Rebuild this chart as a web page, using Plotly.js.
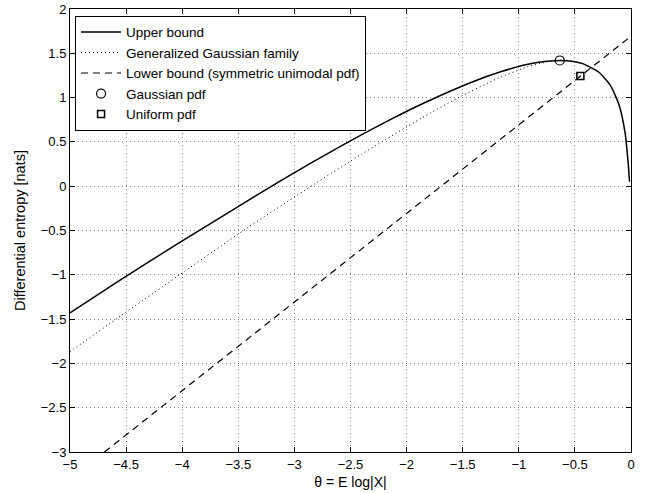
<!DOCTYPE html>
<html>
<head>
<meta charset="utf-8">
<script src="https://cdn.plot.ly/plotly-3.0.1.min.js"></script>
<style>html,body{margin:0;padding:0;background:#fff;}#chart{width:646px;height:493px;}</style>
</head>
<body>
<div id="chart"></div>
<script>
// Upper bound
const upperTheta = [-5.0, -4.571, -4.061, -3.154, -2.562, -2.146, -1.840, -1.421, -1.149, -0.961, -0.823, -0.635, -0.515, -0.432, -0.289, -0.185, -0.107, -0.052, -0.025, -0.013];
const upperH     = [-1.43, -1.074, -0.666, 0.038, 0.469, 0.751, 0.942, 1.174, 1.297, 1.364, 1.399, 1.419, 1.408, 1.383, 1.289, 1.140, 0.920, 0.596, 0.258, 0.05];
// Generalized Gaussian family
const ggTheta = [-5.0, -4.861, -4.553, -4.047, -3.426, -2.831, -2.401, -1.867, -1.548, -1.189, -0.924, -0.727, -0.635];
const ggH     = [-1.867, -1.743, -1.468, -1.021, -0.476, 0.016, 0.362, 0.769, 0.993, 1.216, 1.347, 1.409, 1.419];
// Lower bound (symmetric unimodal pdf)
const lowerTheta = [-4.693, 0.0];
const lowerH     = [-3.0, 1.693];
// Special points
const gaussTheta = [-0.635], gaussH = [1.419];
const unifTheta  = [-0.451], unifH  = [1.2425];
const xTicks = [-5, -4.5, -4, -3.5, -3, -2.5, -2, -1.5, -1, -0.5, 0];
const yTicks = [-3, -2.5, -2, -1.5, -1, -0.5, 0, 0.5, 1, 1.5, 2];

const FONT = 'Liberation Sans, Arial, Helvetica, sans-serif';
const traces = [
  {x: upperTheta, y: upperH, mode: 'lines', name: 'Upper bound',
   line: {color: '#000', width: 1.5, shape: 'spline', smoothing: 0.6}},
  {x: ggTheta, y: ggH, mode: 'lines', name: 'Generalized Gaussian family',
   line: {color: '#000', width: 1, dash: '1px,3px', shape: 'spline', smoothing: 0.6}},
  {x: lowerTheta, y: lowerH, mode: 'lines', name: 'Lower bound (symmetric unimodal pdf)',
   line: {color: '#000', width: 1.2, dash: '7px,5px'}},
  {x: gaussTheta, y: gaussH, mode: 'markers', name: 'Gaussian pdf',
   marker: {symbol: 'circle-open', size: 9, color: '#000', line: {width: 1.2}}},
  {x: unifTheta, y: unifH, mode: 'markers', name: 'Uniform pdf',
   marker: {symbol: 'square-open', size: 7, color: '#000', line: {width: 1.5}}}
];

const axisCommon = {
  showline: true, linecolor: '#000', linewidth: 1, mirror: 'ticks',
  ticks: 'inside', ticklen: 5, tickcolor: '#000', tickwidth: 1,
  showgrid: true, gridcolor: '#808080', griddash: '1px,3px', gridwidth: 1,
  zeroline: false, tickfont: {family: FONT, size: 13, color: '#000'}
};

const layout = {
  width: 646, height: 493,
  margin: {l: 70, r: 15, t: 9, b: 41},
  paper_bgcolor: '#fff', plot_bgcolor: '#fff',
  showlegend: true,
  legend: {x: 0.009, y: 0.985, xanchor: 'left', yanchor: 'top',
    bgcolor: '#fff', bordercolor: '#000', borderwidth: 1, itemwidth: 40,
    font: {family: FONT, size: 13.5, color: '#000'}, tracegroupgap: 0},
  xaxis: Object.assign({}, axisCommon, {range: [-5, 0], tickvals: xTicks,
    ticktext: xTicks.map(v => v < 0 ? '\u2212' + Math.abs(v) : String(v)),
    title: {text: 'θ = E log|X|', font: {family: FONT, size: 14, color: '#000'}, standoff: 6}}),
  yaxis: Object.assign({}, axisCommon, {range: [-3, 2], tickvals: yTicks,
    ticktext: yTicks.map(v => v < 0 ? '\u2212' + Math.abs(v) : String(v)),
    title: {text: 'Differential entropy [nats]', font: {family: FONT, size: 14.5, color: '#000'}, standoff: 11}})
};

Plotly.newPlot('chart', traces, layout, {staticPlot: true, displayModeBar: false});
</script>
</body>
</html>
